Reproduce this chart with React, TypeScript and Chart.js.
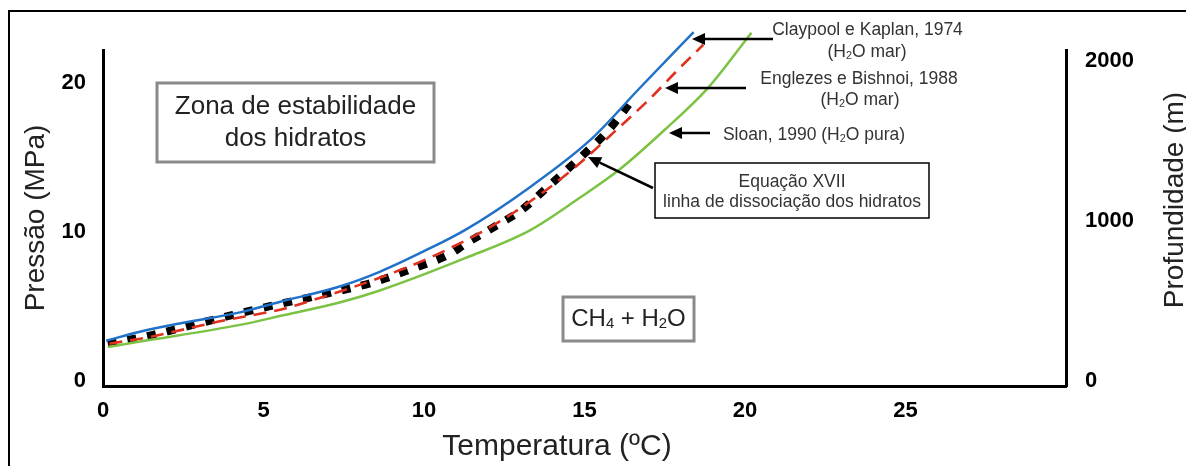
import React, { useEffect, useRef } from "react";
import { Chart, registerables } from "chart.js";

Chart.register(...registerables);

// ---- Data (temperature in ºC, pressure in MPa) ----
const claypoolT = [0.1, 1.15, 2.5, 4.27, 5.5, 7.4, 8.6, 10.0, 11.3, 13.3, 15.2, 16.7, 18.4];
const claypoolP = [2.7, 3.3, 3.9, 4.6, 5.3, 6.35, 7.3, 8.7, 10.15, 13.0, 16.2, 19.6, 23.4];

const englezesT = [0.2, 1.4, 3.6, 5.7, 6.8, 7.8, 8.9, 9.9, 10.9, 11.8, 12.8, 14.5, 16.1, 17.0, 17.9, 18.7];
const englezesP = [2.5, 2.93, 3.98, 4.88, 5.6, 6.3, 7.15, 8.0, 9.0, 10.0, 11.3, 13.96, 17.05, 18.85, 20.85, 22.55];

const sloanT = [0.15, 1.15, 4.27, 5.5, 7.4, 8.6, 11.3, 13.3, 14.86, 16.1, 17.5, 18.85, 20.2];
const sloanP = [2.28, 2.64, 3.76, 4.35, 5.28, 6.05, 8.25, 10.1, 12.3, 14.2, 16.85, 19.66, 23.36];

const equacaoT = [0.15, 1.56, 2.8, 4.05, 5.27, 6.54, 8.4, 9.6, 10.8, 11.3, 12.4, 13.0, 13.9, 14.86, 15.74, 16.56];
const equacaoP = [2.5, 3.09, 3.76, 4.43, 5.05, 5.65, 6.6, 7.5, 8.5, 9.2, 10.6, 11.4, 13.1, 14.97, 16.8, 19.06];

const temperatureTicks = [0, 5, 10, 15, 20, 25];
const pressureTicks = [0, 10, 20];
const depthTicks = [0, 1000, 2000];

const FONT = '"Liberation Sans", Arial, Helvetica, sans-serif';

type Run = { t: string; sub?: boolean };

function drawRich(ctx: CanvasRenderingContext2D, runs: Run[], cx: number, cy: number, size: number, color: string) {
  const subSize = size * 0.62;
  let total = 0;
  const widths = runs.map((r) => {
    ctx.font = `${r.sub ? subSize : size}px ${FONT}`;
    const w = ctx.measureText(r.t).width;
    total += w;
    return w;
  });
  let x = cx - total / 2;
  ctx.fillStyle = color;
  ctx.textAlign = "left";
  ctx.textBaseline = "middle";
  runs.forEach((r, i) => {
    ctx.font = `${r.sub ? subSize : size}px ${FONT}`;
    ctx.fillText(r.t, x, r.sub ? cy + size * 0.22 : cy);
    x += widths[i];
  });
}

function drawArrow(ctx: CanvasRenderingContext2D, x1: number, y1: number, x2: number, y2: number) {
  const ang = Math.atan2(y2 - y1, x2 - x1);
  const hl = 13;
  const hw = 6;
  const bx = x2 - hl * Math.cos(ang);
  const by = y2 - hl * Math.sin(ang);
  ctx.strokeStyle = "#000";
  ctx.lineWidth = 2.5;
  ctx.beginPath();
  ctx.moveTo(x1, y1);
  ctx.lineTo(bx, by);
  ctx.stroke();
  ctx.fillStyle = "#000";
  ctx.beginPath();
  ctx.moveTo(x2, y2);
  ctx.lineTo(bx + hw * Math.sin(ang), by - hw * Math.cos(ang));
  ctx.lineTo(bx - hw * Math.sin(ang), by + hw * Math.cos(ang));
  ctx.closePath();
  ctx.fill();
}

const annotationPlugin = {
  id: "annotations",
  afterDraw(chart: any) {
    const ctx: CanvasRenderingContext2D = chart.ctx;
    ctx.save();
    // outer frame (top and left)
    ctx.fillStyle = "#000";
    ctx.fillRect(8, 10, 1186 - 8, 2);
    ctx.fillRect(8, 10, 2, 466);

    // axis titles
    ctx.fillStyle = "#222";
    ctx.textAlign = "center";
    ctx.textBaseline = "middle";
    ctx.font = `28px ${FONT}`;
    ctx.save();
    ctx.translate(36, 218);
    ctx.rotate(-Math.PI / 2);
    ctx.fillText("Pressão (MPa)", 0, 0);
    ctx.restore();
    ctx.save();
    ctx.translate(1175, 200);
    ctx.rotate(-Math.PI / 2);
    ctx.fillText("Profundidade (m)", 0, 0);
    ctx.restore();
    ctx.font = `30px ${FONT}`;
    ctx.fillText("Temperatura (ºC)", 557, 447);

    // Zona de estabilidade box
    ctx.strokeStyle = "#8a8a8a";
    ctx.lineWidth = 3;
    ctx.strokeRect(157, 83, 277, 79);
    ctx.fillStyle = "#222";
    ctx.font = `26px ${FONT}`;
    ctx.fillText("Zona de estabilidade", 295.5, 107);
    ctx.fillText("dos hidratos", 295.5, 139);

    // CH4 + H2O box
    ctx.strokeStyle = "#8a8a8a";
    ctx.lineWidth = 3;
    ctx.strokeRect(563, 297, 131, 44);
    drawRich(ctx, [{ t: "CH" }, { t: "4", sub: true }, { t: " + H" }, { t: "2", sub: true }, { t: "O" }], 628.5, 319, 24, "#222");

    // Labels of curves
    const s = 17.5;
    const c = "#333";
    drawRich(ctx, [{ t: "Claypool e Kaplan, 1974" }], 867.5, 30, s, c);
    drawRich(ctx, [{ t: "(H" }, { t: "2", sub: true }, { t: "O mar)" }], 867, 52, s, c);
    drawRich(ctx, [{ t: "Englezes e Bishnoi, 1988" }], 859, 79, s, c);
    drawRich(ctx, [{ t: "(H" }, { t: "2", sub: true }, { t: "O mar)" }], 860, 100, s, c);
    drawRich(ctx, [{ t: "Sloan, 1990 (H" }, { t: "2", sub: true }, { t: "O pura)" }], 814, 135, s, c);

    // Equação box
    ctx.strokeStyle = "#000";
    ctx.lineWidth = 1.5;
    ctx.strokeRect(655, 163, 274, 55);
    drawRich(ctx, [{ t: "Equação XVII" }], 792, 182, s, c);
    drawRich(ctx, [{ t: "linha de dissociação dos hidratos" }], 792, 202, s, c);

    // arrows
    drawArrow(ctx, 773, 39, 692, 39);
    drawArrow(ctx, 746, 88, 665, 88);
    drawArrow(ctx, 710, 133, 669, 133);
    drawArrow(ctx, 653, 188, 588, 157);

    ctx.restore();
  },
};

const toPoints = (t: number[], p: number[]) => t.map((x, i) => ({ x, y: p[i] }));

export default function App() {
  const ref = useRef<HTMLCanvasElement>(null);

  useEffect(() => {
    if (!ref.current) return;
    const tickFont = { family: FONT, size: 22, weight: "bold" as const };
    const plain = (v: any) => String(v);
    const chart = new Chart(ref.current, {
      type: "line",
      data: {
        datasets: [
          {
            label: "Sloan, 1990 (H2O pura)",
            data: toPoints(sloanT, sloanP),
            borderColor: "#7cc243",
            borderWidth: 2.5,
            pointRadius: 0,
            cubicInterpolationMode: "monotone",
            clip: false as any,
            yAxisID: "y",
          },
          {
            label: "Claypool e Kaplan, 1974",
            data: toPoints(claypoolT, claypoolP),
            borderColor: "#2271c9",
            borderWidth: 2.5,
            pointRadius: 0,
            cubicInterpolationMode: "monotone",
            clip: false as any,
            yAxisID: "y",
          },
          {
            label: "Englezes e Bishnoi, 1988",
            data: toPoints(englezesT, englezesP),
            borderColor: "#e0301e",
            borderWidth: 2.6,
            borderDash: [13, 8],
            pointRadius: 0,
            cubicInterpolationMode: "monotone",
            clip: false as any,
            yAxisID: "y",
          },
          {
            label: "Equação XVII",
            data: toPoints(equacaoT, equacaoP),
            borderColor: "#000",
            borderWidth: 8,
            borderDash: [9, 11],
            borderCapStyle: "butt",
            pointRadius: 0,
            cubicInterpolationMode: "monotone",
            clip: false as any,
            yAxisID: "y",
          },
        ],
      },
      options: {
        animation: false,
        responsive: false,
        events: [],
        layout: { padding: { top: 50, left: 0, right: 0, bottom: 0 } },
        plugins: { legend: { display: false }, tooltip: { enabled: false } },
        scales: {
          x: {
            type: "linear",
            min: 0,
            max: 30,
            afterBuildTicks: (s: any) => {
              s.ticks = temperatureTicks.map((v) => ({ value: v }));
            },
            afterFit: (s: any) => {
              s.height = 80;
            },
            grid: { display: false, drawTicks: false },
            border: { display: true, color: "#000", width: 3 },
            ticks: { font: tickFont, color: "#000", padding: 12, maxRotation: 0, callback: plain },
          },
          y: {
            type: "linear",
            position: "left",
            min: -0.34,
            max: 22.2,
            afterBuildTicks: (s: any) => {
              s.ticks = pressureTicks.map((v) => ({ value: v }));
            },
            afterFit: (s: any) => {
              s.width = 103;
            },
            grid: { display: false, drawTicks: false },
            border: { display: true, color: "#000", width: 3 },
            ticks: { font: tickFont, color: "#000", padding: 17, callback: plain },
          },
          y2: {
            type: "linear",
            position: "right",
            min: -31.5,
            max: 2070,
            afterBuildTicks: (s: any) => {
              s.ticks = depthTicks.map((v) => ({ value: v }));
            },
            afterFit: (s: any) => {
              s.width = 120;
            },
            grid: { display: false, drawTicks: false },
            border: { display: true, color: "#000", width: 3 },
            ticks: { font: tickFont, color: "#000", padding: 19, callback: plain },
          },
        },
      } as any,
      plugins: [annotationPlugin],
    });
    return () => chart.destroy();
  }, []);

  return (
    <div style={{ position: "absolute", left: 0, top: 0, width: 1186, height: 466, background: "#fff" }}>
      <canvas ref={ref} width={1186} height={466} style={{ display: "block" }} />
    </div>
  );
}
